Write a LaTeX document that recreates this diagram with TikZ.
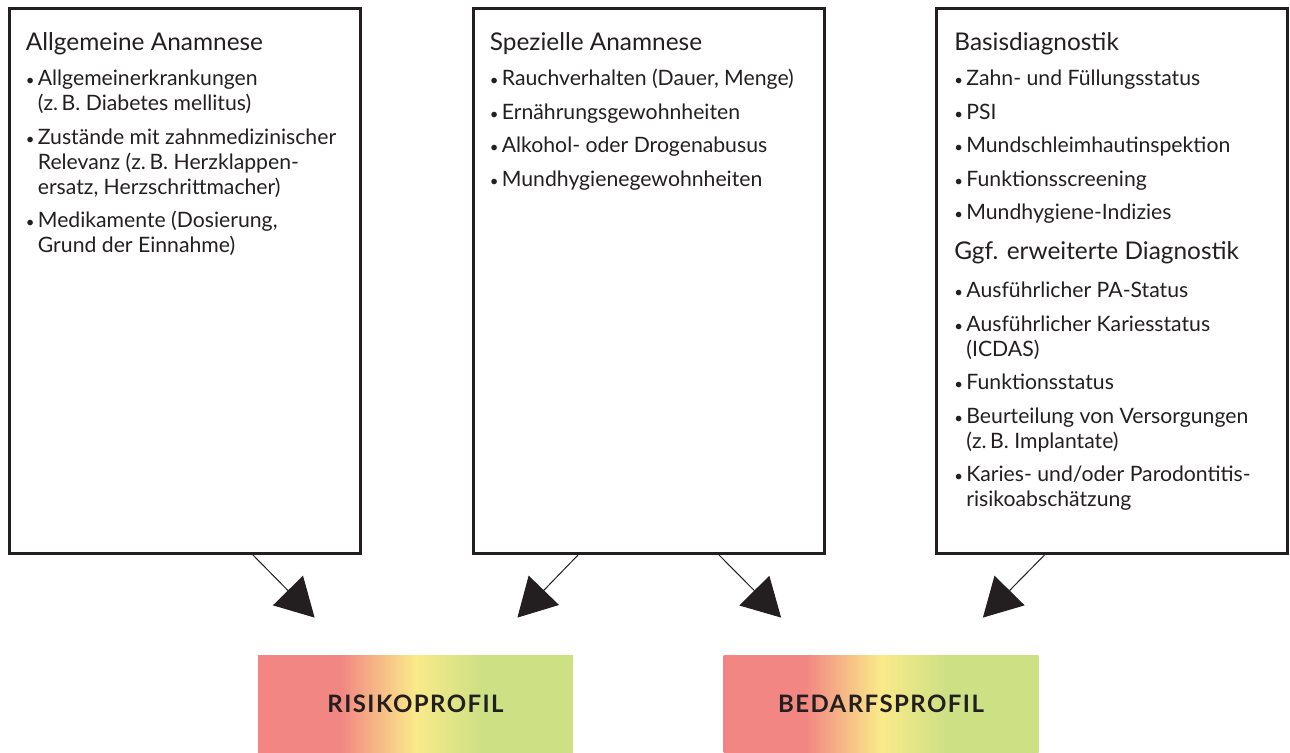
\documentclass[tikz,border=0pt]{standalone}
\usepackage{fontspec}
\setmainfont{Lato}
\usetikzlibrary{calc,arrows.meta,positioning}
\definecolor{dunkel}{HTML}{231F20}
\definecolor{rot}{HTML}{F28683}
\definecolor{gelb}{HTML}{FAEA8A}
\definecolor{gruen}{HTML}{CDE084}
\pgfdeclarehorizontalshading{profil}{100bp}{color(0bp)=(rot); color(38bp)=(rot); color(50bp)=(gelb); color(60.5bp)=(gruen); color(100bp)=(gruen)}
\newcommand{\kopf}[1]{{\fontsize{12.2}{12.5}\selectfont #1}}
\newcommand{\pkt}{\makebox[6pt][l]{\fontsize{7.5}{7.5}\selectfont\textbullet}}
\newcommand{\ein}{\hspace*{6pt}}

\begin{document}
\begin{tikzpicture}[x=0.5pt,y=-0.5pt,
    kasten/.style={rectangle, draw=dunkel, line width=1.5pt, minimum width=175.5pt,
      minimum height=272pt, inner sep=0pt},
    inhalt/.style={anchor=north west, inner sep=0pt, align=left, text=dunkel,
      font=\fontsize{10.6}{12.5}\selectfont},
    profil/.style={rectangle, shading=profil, minimum width=157.5pt, minimum height=49pt,
      inner sep=0pt, text=dunkel, font=\fontsize{12}{14}\selectfont\bfseries\addfontfeatures{LetterSpace=6}},
    pfeil/.style={draw=dunkel, line width=0.5pt, -{Triangle[length=19pt,width=21pt]}}]

  \useasboundingbox (0,0) rectangle (1290,753);

  \node[kasten] (allg) at (184.5,281) {};
  \node[kasten] (spez) at (648.5,281) {};
  \node[kasten] (basis) at (1112,281) {};

  \node[inhalt] (allgtext) at ($(allg.north west)+(18,25)$) {\kopf{Allgemeine Anamnese}\\[5pt]
    \pkt Allgemeinerkrankungen\\
    \ein (z.\,B. Diabetes mellitus)\\[4.25pt]
    \pkt Zustände mit zahnmedizinischer\\
    \ein Relevanz (z.\,B. Herzklappen-\\
    \ein ersatz, Herzschrittmacher)\\[4.25pt]
    \pkt Medikamente (Dosierung,\\
    \ein Grund der Einnahme)};

  \node[inhalt] (speztext) at ($(spez.north west)+(18,25)$) {\kopf{Spezielle Anamnese}\\[5pt]
    \pkt Rauchverhalten (Dauer, Menge)\\[4.25pt]
    \pkt Ernährungsgewohnheiten\\[4.25pt]
    \pkt Alkohol- oder Drogenabusus\\[4.25pt]
    \pkt Mundhygienegewohnheiten};

  \node[inhalt] (basistext) at ($(basis.north west)+(19,25)$) {\kopf{Basisdiagnostik}\\[5pt]
    \pkt Zahn- und Füllungsstatus\\[4.25pt]
    \pkt PSI\\[4.25pt]
    \pkt Mundschleimhautinspektion\\[4.25pt]
    \pkt Funktionsscreening\\[4.25pt]
    \pkt Mundhygiene-Indizies\\[7.5pt]
    \kopf{Ggf. erweiterte Diagnostik}\\[6.5pt]
    \pkt Ausführlicher PA-Status\\[4.25pt]
    \pkt Ausführlicher Kariesstatus\\
    \ein (ICDAS)\\[4.25pt]
    \pkt Funktionsstatus\\[4.25pt]
    \pkt Beurteilung von Versorgungen\\
    \ein (z.\,B. Implantate)\\[4.25pt]
    \pkt Karies- und/oder Parodontitis-\\
    \ein risikoabschätzung};

  \node[profil] (risiko) at (415.5,704) {RISIKOPROFIL};
  \node[profil] (bedarf) at (881,704) {BEDARFSPROFIL};

  \coordinate (z1) at ($(risiko.north west)+(57,-37)$);
  \coordinate (z2) at ($(risiko.north east)+(-56,-37)$);
  \coordinate (z3) at ($(bedarf.north west)+(58,-37)$);
  \coordinate (z4) at ($(bedarf.north east)+(-56,-37)$);

  \draw[pfeil] ($(allg.south)+(68,0)$) -- (z1);
  \draw[pfeil] ($(spez.south)+(-70,0)$) -- (z2);
  \draw[pfeil] ($(spez.south)+(70,0)$) -- (z3);
  \draw[pfeil] ($(basis.south)+(-67,0)$) -- (z4);
\end{tikzpicture}
\end{document}
